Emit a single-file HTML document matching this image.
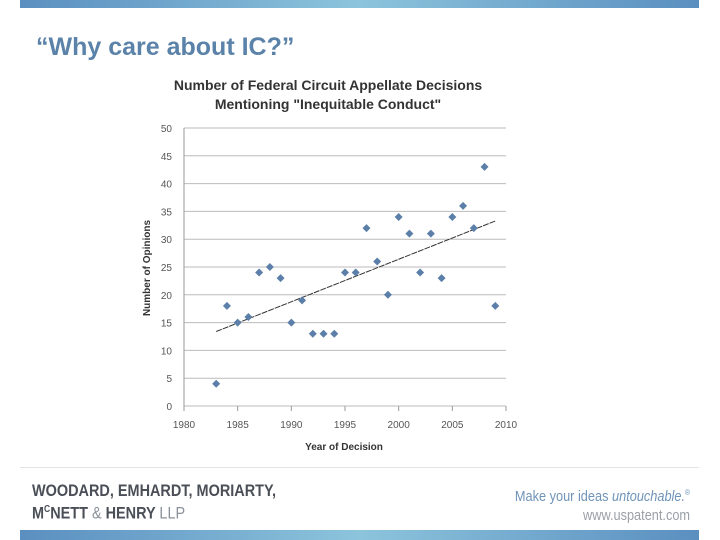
<!DOCTYPE html>
<html><head><meta charset="utf-8"><style>
body{margin:0;width:720px;height:540px;background:#fff;position:relative;overflow:hidden;font-family:"Liberation Sans",sans-serif}
.bar{position:absolute;left:20px;width:679px;background:linear-gradient(90deg,#5a8fc0,#8cc4dc 50%,#5a8fc0)}
</style></head><body>
<div class="bar" style="top:0;height:8px"></div>
<div style="position:absolute;left:36px;top:33px;font-size:25px;font-weight:bold;color:#5b82a8">“Why care about IC?”</div>
<svg id="c" width="720" height="540" style="position:absolute;left:0;top:0"></svg>
<div style="position:absolute;left:20px;top:467px;width:679px;height:1px;background:#e4e4e4"></div>
<div style="position:absolute;left:32px;top:481px;font-size:17px;font-weight:bold;color:#4a4f57;line-height:19px;transform:scaleX(0.85);transform-origin:left">WOODARD, EMHARDT, MORIARTY,<br>M<sup style="font-size:10px">C</sup>NETT <span style="font-weight:normal;color:#8a9099">&amp;</span> HENRY <span style="font-weight:normal;color:#8a9099">LLP</span></div>
<div style="position:absolute;right:30px;top:483px;text-align:right;font-size:15px;color:#6f94b8;line-height:19px;transform:scaleX(0.85);transform-origin:right">Make your ideas <i>untouchable.</i><sup style="font-size:8px">®</sup><br><span style="color:#9aa0a6">www.uspatent.com</span></div>
<div class="bar" style="top:530px;height:10px"></div>
<script>
const years=[1983,1984,1985,1986,1987,1988,1989,1990,1991,1992,1993,1994,1995,1996,1997,1998,1999,2000,2001,2002,2003,2004,2005,2006,2007,2008,2009];
const opinions=[4,18,15,16,24,25,23,15,19,13,13,13,24,24,32,26,20,34,31,24,31,23,34,36,32,43,18];
const xTicks=[1980,1985,1990,1995,2000,2005,2010];
const yTicks=[0,5,10,15,20,25,30,35,40,45,50];
const svg=document.getElementById('c'),NS='http://www.w3.org/2000/svg';
const X=v=>184+(v-1980)/30*322, Y=v=>406-v/50*278;
function mk(t,a,txt){const e=document.createElementNS(NS,t);for(const k in a)e.setAttribute(k,a[k]);if(txt!=null)e.textContent=txt;svg.appendChild(e);return e;}
let e;
e=mk('text',{x:328,y:90,'text-anchor':'middle','font-size':14,'font-weight':'bold',fill:'#333'},'Number of Federal Circuit Appellate Decisions');


e=mk('text',{x:328,y:109,'text-anchor':'middle','font-size':14,'font-weight':'bold',fill:'#333'},'Mentioning "Inequitable Conduct"');


yTicks.forEach(v=>{
 e=mk('line',{x1:184,x2:506,y1:Y(v),y2:Y(v),stroke:'#bbb','stroke-width':1});
 
 
 e=mk('text',{x:172,y:Y(v)+4,'text-anchor':'end','font-size':10,fill:'#555'},v);
 
 
});
mk('line',{x1:184,x2:184,y1:Y(50),y2:Y(0),stroke:'#999'});
xTicks.forEach(v=>{
 e=mk('line',{x1:X(v),x2:X(v),y1:406,y2:411,stroke:'#999'});
 
 
 e=mk('text',{x:X(v),y:428,'text-anchor':'middle','font-size':10,fill:'#555'},v);
 
 
});
e=mk('text',{x:344,y:450,'text-anchor':'middle','font-size':10,'font-weight':'bold',fill:'#333'},'Year of Decision');


e=mk('text',{x:0,y:0,'text-anchor':'middle','font-size':10,'font-weight':'bold',fill:'#333',transform:'translate(150,268) rotate(-90)'},'Number of Opinions');


// trendline (least squares)
const n=years.length,mx=years.reduce((a,b)=>a+b)/n,my=opinions.reduce((a,b)=>a+b)/n;
let sxy=0,sxx=0;years.forEach((x,i)=>{sxy+=(x-mx)*(opinions[i]-my);sxx+=(x-mx)**2;});
const b=sxy/sxx,a=my-b*mx,x0=years[0],x1=years[n-1];
e=mk('line',{x1:X(x0),y1:Y(a+b*x0),x2:X(x1),y2:Y(a+b*x1),stroke:'#333','stroke-width':1,'stroke-dasharray':'6 1'});


years.forEach((yr,i)=>{
 const cx=X(yr),cy=Y(opinions[i]);
 e=mk('polygon',{points:`${cx},${cy-4} ${cx+4},${cy} ${cx},${cy+4} ${cx-4},${cy}`,fill:'#5b7fa8'});
 
 
});
</script>
</body></html>
